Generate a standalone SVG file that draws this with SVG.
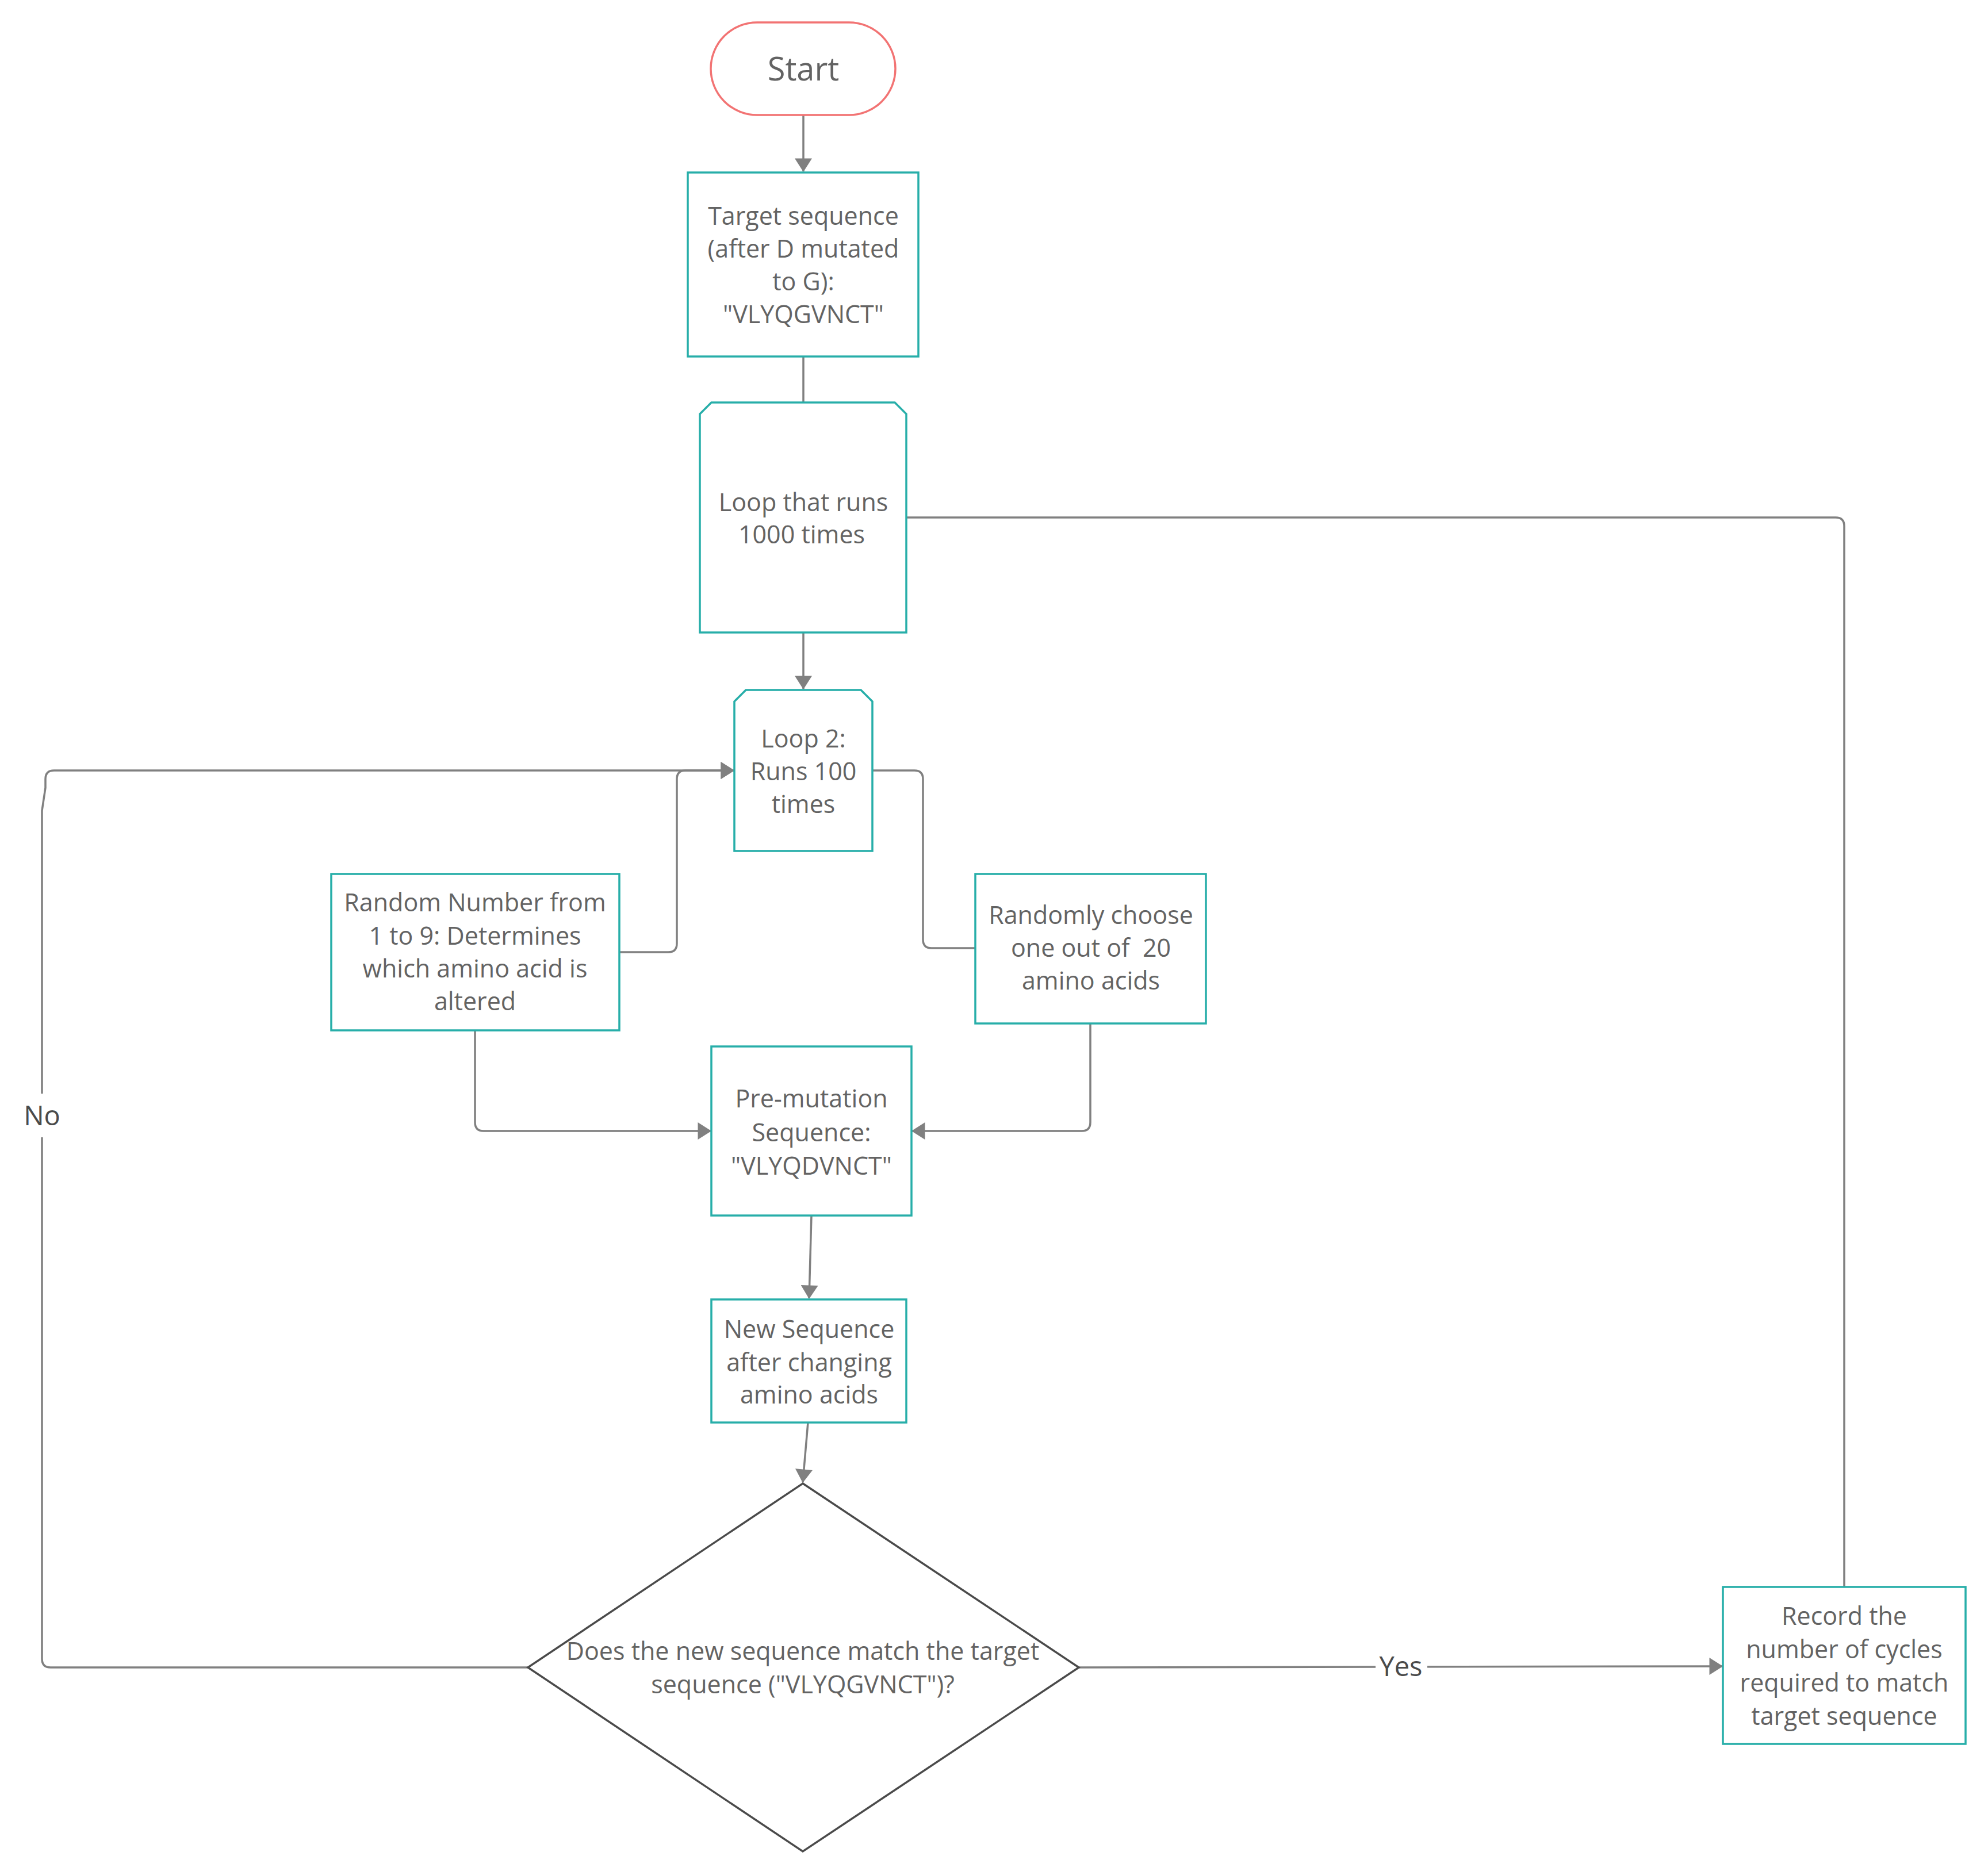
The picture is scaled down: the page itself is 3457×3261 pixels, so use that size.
<svg xmlns="http://www.w3.org/2000/svg" width="3457" height="3261" viewBox="0 0 3457 3261">
<style>
.node{fill:#ffffff;stroke:#27AEA9;stroke-width:3.5}
.start{fill:#ffffff;stroke:#F27373;stroke-width:3.5}
.dia{fill:#ffffff;stroke:#4a4a4a;stroke-width:3.5}
.t{font-family:"Open Sans","Noto Sans","DejaVu Sans",sans-serif;font-size:43px;fill:#636363;text-anchor:middle;white-space:pre}
.lbl{font-family:"Open Sans","Noto Sans","DejaVu Sans",sans-serif;font-size:47px;fill:#4a4a4a;text-anchor:middle}
.c{fill:none;stroke:#808080;stroke-width:3.5}
</style>
<defs>
<marker id="arr" markerUnits="userSpaceOnUse" markerWidth="30" markerHeight="30" viewBox="0 0 22 28" refX="21" refY="14" orient="auto">
<path d="M0,0 L22,14 L0,28 Z" fill="#808080"/>
</marker>
</defs>
<rect width="3457" height="3261" fill="#ffffff"/>
<g id="connectors">
<path class="c" d="M1397,200 L1397,298" marker-end="url(#arr)"/>
<path class="c" d="M1397,620 L1397,700"/>
<path class="c" d="M1397,1100 L1397,1198" marker-end="url(#arr)"/>
<path class="c" d="M1517,1340 H1590 Q1605,1340 1605,1355 V1634 Q1605,1649 1620,1649 H1696"/>
<path class="c" d="M1077,1656 H1162 Q1177,1656 1177,1641 V1355 Q1177,1340 1192,1340 H1276" marker-end="url(#arr)"/>
<path class="c" d="M918,2900 H88 Q73,2900 73,2885 V1410 L79,1370 V1355 Q79,1340 94,1340 H1276" marker-end="url(#arr)"/>
<path class="c" d="M826,1792 V1952 Q826,1967 841,1967 H1236" marker-end="url(#arr)"/>
<path class="c" d="M1896,1780 V1952 Q1896,1967 1881,1967 H1586" marker-end="url(#arr)"/>
<path class="c" d="M1411,2114 L1407,2258" marker-end="url(#arr)"/>
<path class="c" d="M1405,2474 L1396,2578" marker-end="url(#arr)"/>
<path class="c" d="M1876,2900 L2995,2898" marker-end="url(#arr)"/>
<path class="c" d="M3207,2760 V915 Q3207,900 3192,900 H1576"/>
<rect x="40" y="1902" width="68" height="76" fill="#ffffff"/>
<text class="lbl" x="73" y="1957">No</text>
<rect x="2392" y="2870" width="90" height="60" fill="#ffffff"/>
<text class="lbl" x="2436" y="2915">Yes</text>
</g>
<g id="start">
<rect class="start" x="1236" y="39" width="321" height="161" rx="80.5" ry="80.5"/>
<text class="t" x="1397" y="140" style="font-size:56px">Start</text>
</g>
<g id="target">
<rect class="node" x="1196" y="300" width="401" height="320"/>
<text class="t" x="1397" y="391">Target sequence</text>
<text class="t" x="1397" y="448">(after D mutated</text>
<text class="t" x="1397" y="505">to G):</text>
<text class="t" x="1397" y="562">"VLYQGVNCT"</text>
</g>
<g id="loop1">
<path class="node" d="M1237,700 H1556 L1576,720 V1100 H1217 V720 Z"/>
<text class="t" x="1397" y="889">Loop that runs</text>
<text class="t" x="1394" y="945">1000 times</text>
</g>
<g id="loop2">
<path class="node" d="M1297,1200 H1497 L1517,1220 V1480 H1277 V1220 Z"/>
<text class="t" x="1397" y="1300">Loop 2:</text>
<text class="t" x="1397" y="1357">Runs 100</text>
<text class="t" x="1397" y="1414">times</text>
</g>
<g id="random-number">
<rect class="node" x="576" y="1520" width="501" height="272"/>
<text class="t" x="826" y="1585">Random Number from</text>
<text class="t" x="826" y="1643">1 to 9: Determines</text>
<text class="t" x="826" y="1700">which amino acid is</text>
<text class="t" x="826" y="1757">altered</text>
</g>
<g id="randomly-choose">
<rect class="node" x="1696" y="1520" width="401" height="260"/>
<text class="t" x="1897" y="1607">Randomly choose</text>
<text class="t" x="1897" y="1664">one out of  20</text>
<text class="t" x="1897" y="1721">amino acids</text>
</g>
<g id="pre-mutation">
<rect class="node" x="1237" y="1820" width="348" height="294"/>
<text class="t" x="1411" y="1926">Pre-mutation</text>
<text class="t" x="1411" y="1985">Sequence:</text>
<text class="t" x="1411" y="2043">"VLYQDVNCT"</text>
</g>
<g id="new-sequence">
<rect class="node" x="1237" y="2260" width="339" height="214"/>
<text class="t" x="1407" y="2327">New Sequence</text>
<text class="t" x="1407" y="2385">after changing</text>
<text class="t" x="1407" y="2441">amino acids</text>
</g>
<g id="decision">
<path class="dia" d="M1396,2580 L1876,2900 L1396,3220 L918,2900 Z"/>
<text class="t" x="1396" y="2887">Does the new sequence match the target</text>
<text class="t" x="1396" y="2945">sequence ("VLYQGVNCT")?</text>
</g>
<g id="record">
<rect class="node" x="2996" y="2760" width="422" height="273"/>
<text class="t" x="3207" y="2826">Record the</text>
<text class="t" x="3207" y="2884">number of cycles</text>
<text class="t" x="3207" y="2942">required to match</text>
<text class="t" x="3207" y="3000">target sequence</text>
</g>
</svg>
